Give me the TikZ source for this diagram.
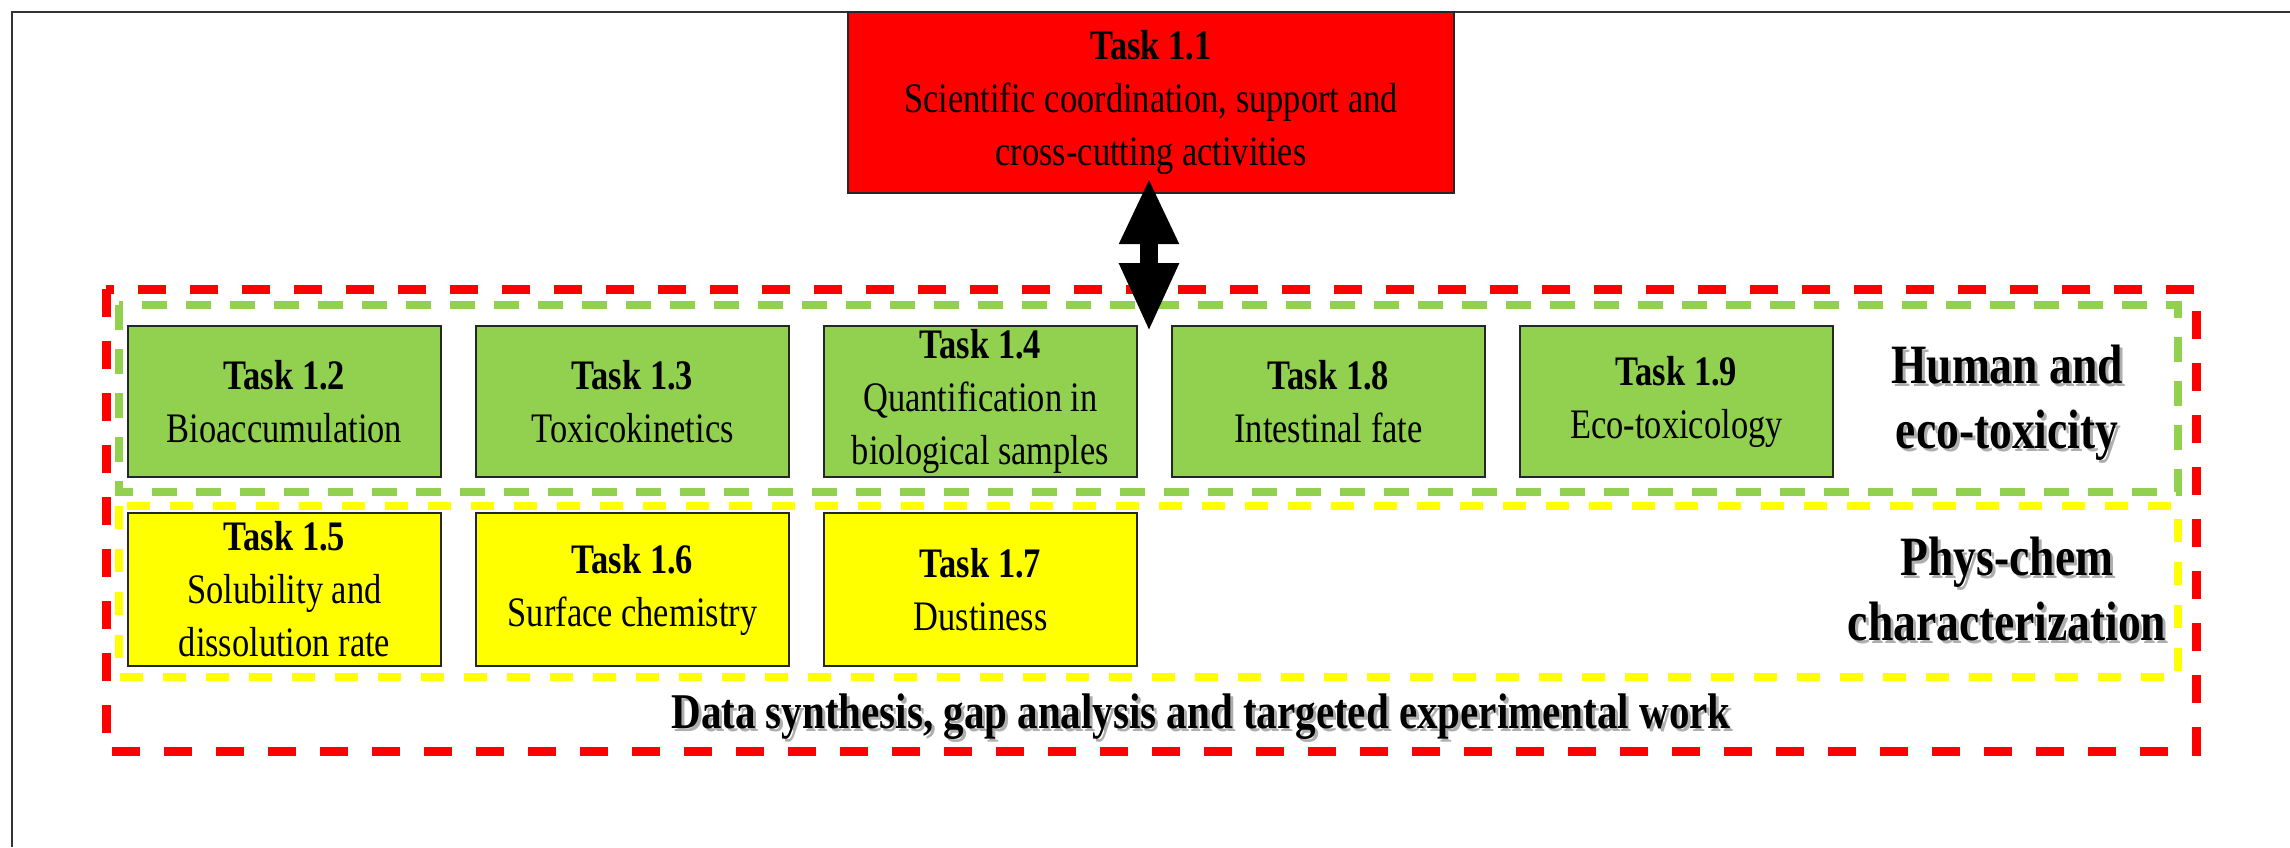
\documentclass[tikz,border=0pt]{standalone}
\usepackage{fontspec}
\setmainfont{Liberation Serif}[FakeStretch=0.82]
\usetikzlibrary{arrows.meta}

\definecolor{taskred}{HTML}{FF0000}
\definecolor{taskgreen}{HTML}{92D050}
\definecolor{taskyellow}{HTML}{FFFF00}

\tikzset{
  taskbox/.style={draw=black!85, line width=2pt, minimum width=313pt,
    minimum height=151pt, align=center, inner sep=0pt,
    font=\fontsize{42}{53}\selectfont,
    execute at begin node={\rule{0pt}{40pt}}},
  greenbox/.style={taskbox, fill=taskgreen},
  yellowbox/.style={taskbox, fill=taskyellow, minimum height=153pt},
  leadbox/.style={taskbox, fill=taskred, minimum width=606pt, minimum height=181pt},
  reddash/.style={draw=taskred, line width=9pt, dash pattern=on 28pt off 24pt},
  greendash/.style={draw=taskgreen, line width=7.5pt, dash pattern=on 25pt off 19pt},
  yellowdash/.style={draw=taskyellow, line width=7.5pt, dash pattern=on 23pt off 20pt},
  heading/.style={align=center, inner sep=0pt, font=\fontsize{55.5}{65}\selectfont\bfseries},
  footline/.style={inner sep=0pt, font=\fontsize{50}{60}\selectfont\bfseries},
  textshadow/.style={text=black!45, opacity=0.7},
  frameline/.style={draw=black!80, line width=2.5pt},
  biarrow/.style={line width=18pt,
    {Triangle[length=66pt,width=55pt]}-{Triangle[length=69pt,width=55pt]}},
}

\begin{document}
\begin{tikzpicture}[x=1pt, y=-1pt]
  \useasboundingbox (0,0) rectangle (2290,847);

  % page frame (top and left edges)
  \draw[frameline] (12,847) -- (12,12) -- (2290,12);

  % grouping frames
  \draw[reddash] (106,289) rectangle (2196,751);
  \draw[greendash] (119,305) rectangle (2178,492);
  \draw[yellowdash] (119,506) rectangle (2178,677);

  % coordinating task
  \node[leadbox] (t11) at (1151,102.5)
    {\textbf{Task 1.1}\\Scientific coordination, support and\\cross-cutting activities};

  % human and eco-toxicity tasks
  \node[greenbox] (t12) at (284.5,401.5)  {\textbf{Task 1.2}\\Bioaccumulation};
  \node[greenbox] (t13) at (632.5,401.5)  {\textbf{Task 1.3}\\Toxicokinetics};
  \node[greenbox] (t14) at (980.5,401.5)  {\textbf{Task 1.4}\\Quantification in\\biological samples};
  \node[greenbox] (t18) at (1328.5,401.5) {\textbf{Task 1.8}\\Intestinal fate};
  \node[greenbox] (t19) at (1676.5,401.5) {\textbf{Task 1.9}\\Eco-toxicology};

  % phys-chem tasks
  \node[yellowbox] (t15) at (284.5,589.5) {\textbf{Task 1.5}\\Solubility and\\dissolution rate};
  \node[yellowbox] (t16) at (632.5,589.5) {\textbf{Task 1.6}\\Surface chemistry};
  \node[yellowbox] (t17) at (980.5,589.5) {\textbf{Task 1.7}\\Dustiness};

  % group headings with soft shadow
  \node[heading, textshadow] (hhs) at (2010,406) {Human and\\eco-toxicity};
  \node[heading] (hh) at (2007,403) {Human and\\eco-toxicity};
  \node[heading, textshadow] (hps) at (2010,592) {Phys-chem\\characterization};
  \node[heading] (hp) at (2007,589) {Phys-chem\\characterization};
  \node[footline, textshadow] (fts) at (1204,719.5)
    {Data synthesis, gap analysis and targeted experimental work};
  \node[footline] (ft) at (1201,716.5)
    {Data synthesis, gap analysis and targeted experimental work};

  % link between coordination and the work tasks
  \coordinate (arrtop) at (1149,178);
  \coordinate (arrbot) at (1149,332);
  \draw[biarrow] (arrtop) -- (arrbot);
\end{tikzpicture}
\end{document}
